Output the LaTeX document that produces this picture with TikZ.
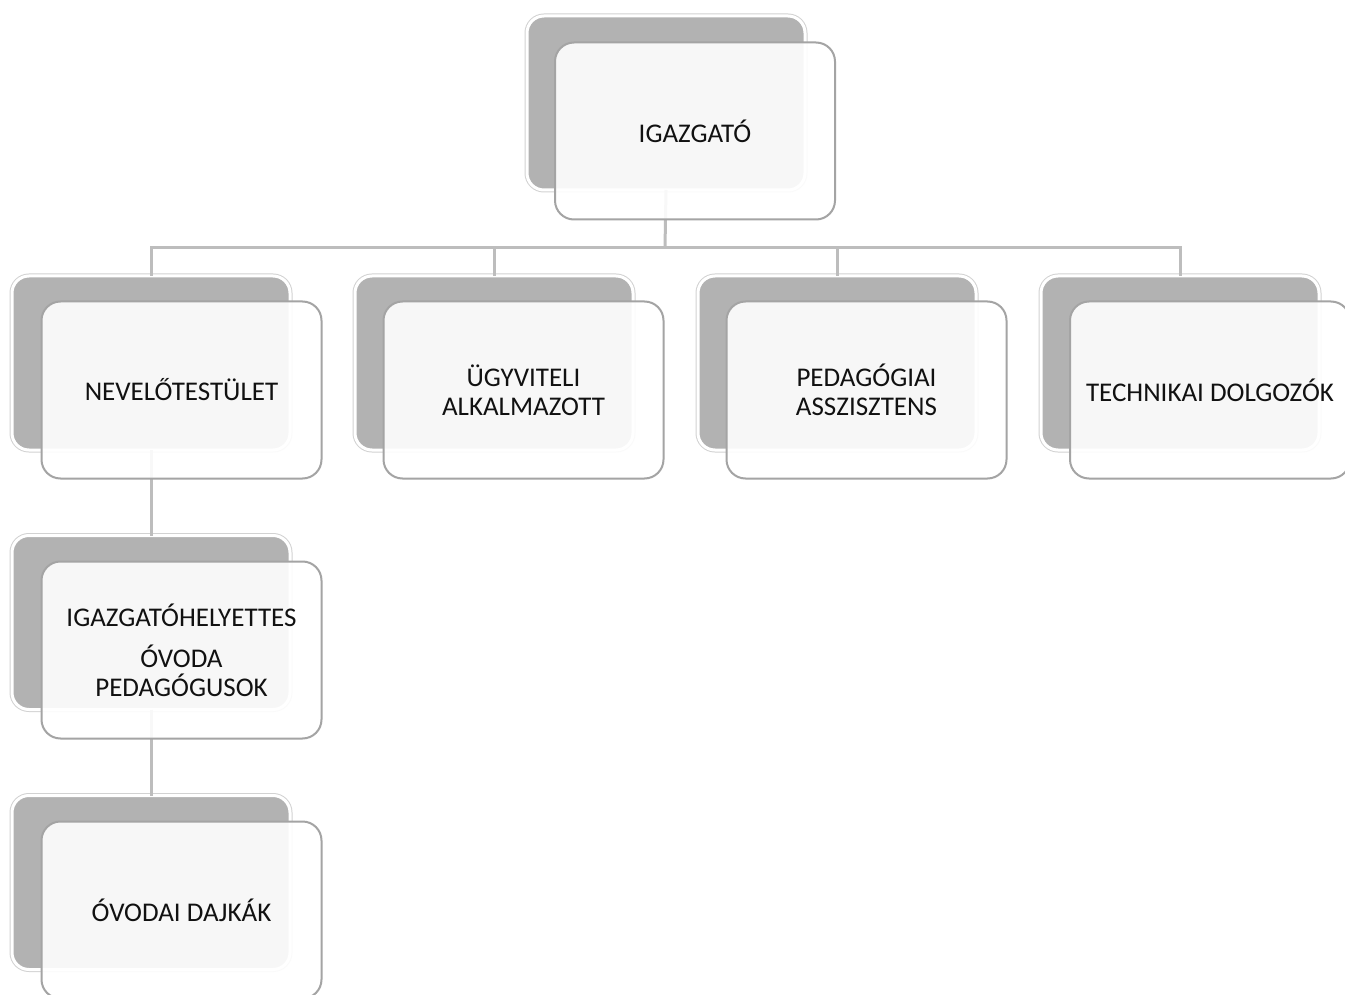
\documentclass[tikz,border=0pt]{standalone}
\usepackage{fontspec}
\setmainfont{Carlito}
\definecolor{backgrey}{HTML}{B2B2B2}
\definecolor{ringgrey}{HTML}{D2D2D2}
\definecolor{framegrey}{HTML}{A4A4A4}
\definecolor{conngrey}{HTML}{BDBDBD}
\definecolor{txt}{HTML}{111111}
\tikzset{
  backbox/.style={minimum width=278pt, minimum height=174pt, inner sep=0pt, outer sep=0pt,
    rounded corners=17pt, fill=backgrey,
    preaction={draw=ringgrey, line width=5pt, rounded corners=17pt},
    draw=white, line width=3pt},
  frontbox/.style={minimum width=280pt, minimum height=177pt, inner sep=0pt, outer sep=0pt,
    rounded corners=19pt, fill=white, fill opacity=0.9, text opacity=1,
    draw=framegrey, draw opacity=1, line width=2pt, align=center, text=txt,
    font=\fontsize{27}{29}\selectfont},
  conn/.style={draw=conngrey, line width=3pt}
}
\begin{document}
\begin{tikzpicture}[x=1pt,y=-1pt]
\useasboundingbox (0,0) rectangle (1345,995);
\fill[white] (0,0) rectangle (1345,995);
% back boxes
\node[backbox] (igb) at (666,103) {};
\node[backbox] (nevb) at (151,363) {};
\node[backbox] (ugyb) at (494,363) {};
\node[backbox] (pedb) at (837,363) {};
\node[backbox] (tecb) at (1180,363) {};
\node[backbox] (helb) at (151,622.5) {};
\node[backbox] (dajb) at (151,882.5) {};
% connectors
\coordinate (bar) at (665,248);
\draw[conn] (igb.south) -- (bar);
\draw[conn] (bar) -| (nevb.north);
\draw[conn] (bar) -| (ugyb.north);
\draw[conn] (bar) -| (pedb.north);
\draw[conn] (bar) -| (tecb.north);
\draw[conn] (nevb.south) -- (helb.north);
\draw[conn] (helb.south) -- (dajb.north);
% front boxes
\node[frontbox] (igf) at (695,131) {IGAZGATÓ};
\node[frontbox] (nevf) at (181.5,390) {NEVELŐTESTÜLET};
\node[frontbox] (ugyf) at (523.5,390) {ÜGYVITELI\\ALKALMAZOTT};
\node[frontbox] (pedf) at (866.5,390) {PEDAGÓGIAI\\ASSZISZTENS};
\node[frontbox] (tecf) at (1210,390) {TECHNIKAI DOLGOZÓK};
\node[frontbox] (helf) at (181.5,650) {IGAZGATÓHELYETTES\\[12pt]ÓVODA\\PEDAGÓGUSOK};
\node[frontbox] (dajf) at (181.5,910) {ÓVODAI DAJKÁK};
\end{tikzpicture}
\end{document}
